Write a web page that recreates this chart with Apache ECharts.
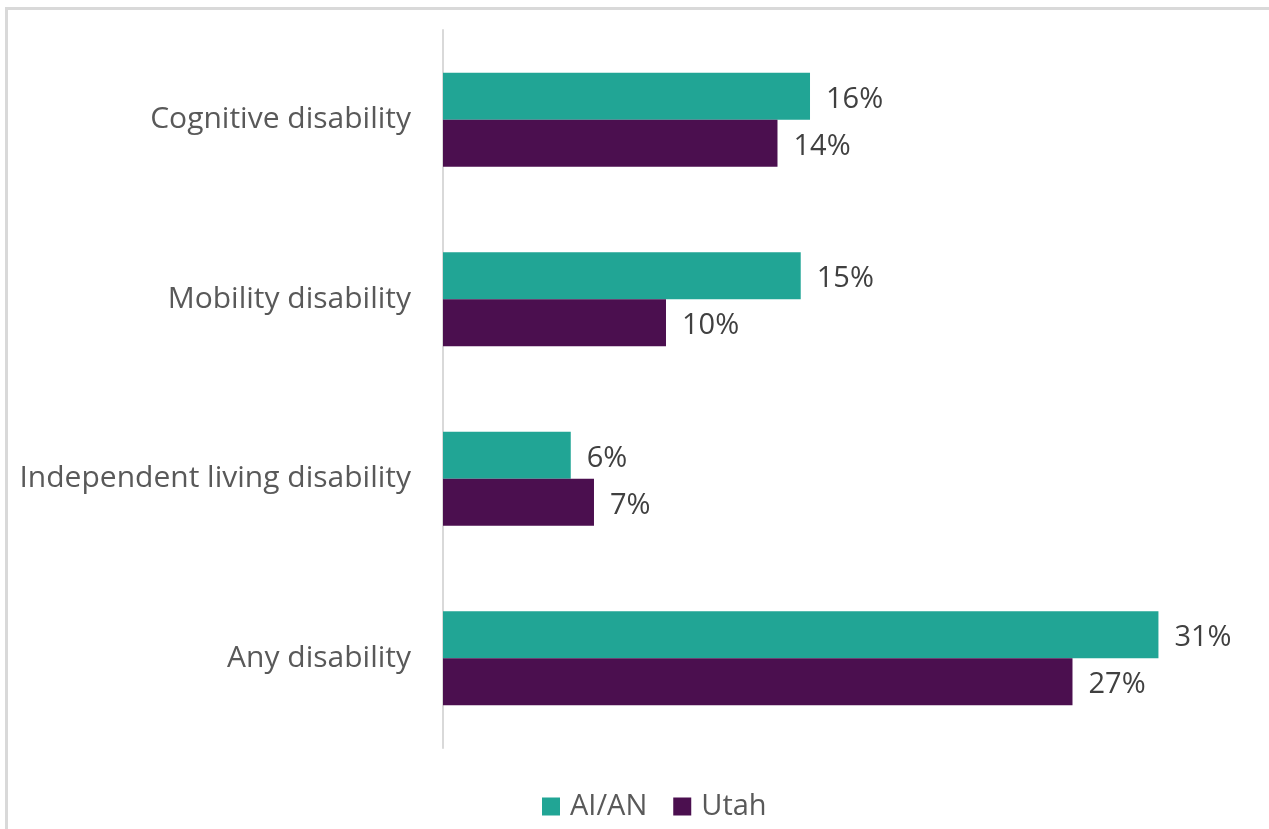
<!DOCTYPE html>
<html>
<head>
<meta charset="utf-8">
<script src="https://cdn.jsdelivr.net/npm/echarts@6/dist/echarts.min.js"></script>
<style>
  html, body { margin: 0; padding: 0; background: #fff; }
  #frame { position: absolute; left: 5px; top: 7px; right: 0; bottom: 0;
           border-left: 3px solid #d9d9d9; border-top: 3px solid #d9d9d9; }
  #chart { position: absolute; left: 0; top: 0; width: 1269px; height: 829px; }
</style>
</head>
<body>
<div id="frame"></div>
<div id="chart"></div>
<script>
// categories top to bottom
const categories = ['Cognitive disability', 'Mobility disability', 'Independent living disability', 'Any disability'];
// percent values
const aian = [15.8, 15.4, 5.5, 30.8];
const utah = [14.4, 9.6, 6.5, 27.1];

const labelStyle = {
  show: true,
  position: 'right',
  distance: 16,
  offset: [0, 3],
  color: '#404040',
  fontFamily: 'Open Sans',
  fontSize: 29,
  formatter: function (p) { return Math.round(p.value) + '%'; }
};

let option = {
  animation: false,
  textStyle: { fontFamily: 'Open Sans' },
  grid: {
    left: 443,
    right: 13,
    top: 30,
    bottom: 81
  },
  legend: {
    data: ['AI/AN', 'Utah'],
    left: 537,
    top: 787,
    itemWidth: 18,
    itemHeight: 18,
    itemGap: 26,
    icon: 'rect',
    textStyle: { color: '#595959', fontSize: 29, fontFamily: 'Open Sans', padding: [0, 0, 0, 5] }
  },
  xAxis: {
    type: 'value',
    min: 0,
    max: 35,
    show: false
  },
  yAxis: {
    type: 'category',
    inverse: true,
    data: categories,
    axisLine: { show: true, lineStyle: { color: '#d9d9d9', width: 2 } },
    axisTick: { show: false },
    axisLabel: { color: '#595959', fontSize: 30, fontFamily: 'Open Sans', margin: 32, padding: [4, 0, 0, 0] }
  },
  series: [
    {
      name: 'AI/AN',
      type: 'bar',
      data: aian,
      barGap: '0%',
      barCategoryGap: '47.6%',
      itemStyle: { color: '#21a595' },
      label: labelStyle
    },
    {
      name: 'Utah',
      type: 'bar',
      data: utah,
      itemStyle: { color: '#4b0f4f' },
      label: labelStyle
    }
  ]
};

echarts.init(document.getElementById('chart')).setOption(option);
</script>
</body>
</html>
